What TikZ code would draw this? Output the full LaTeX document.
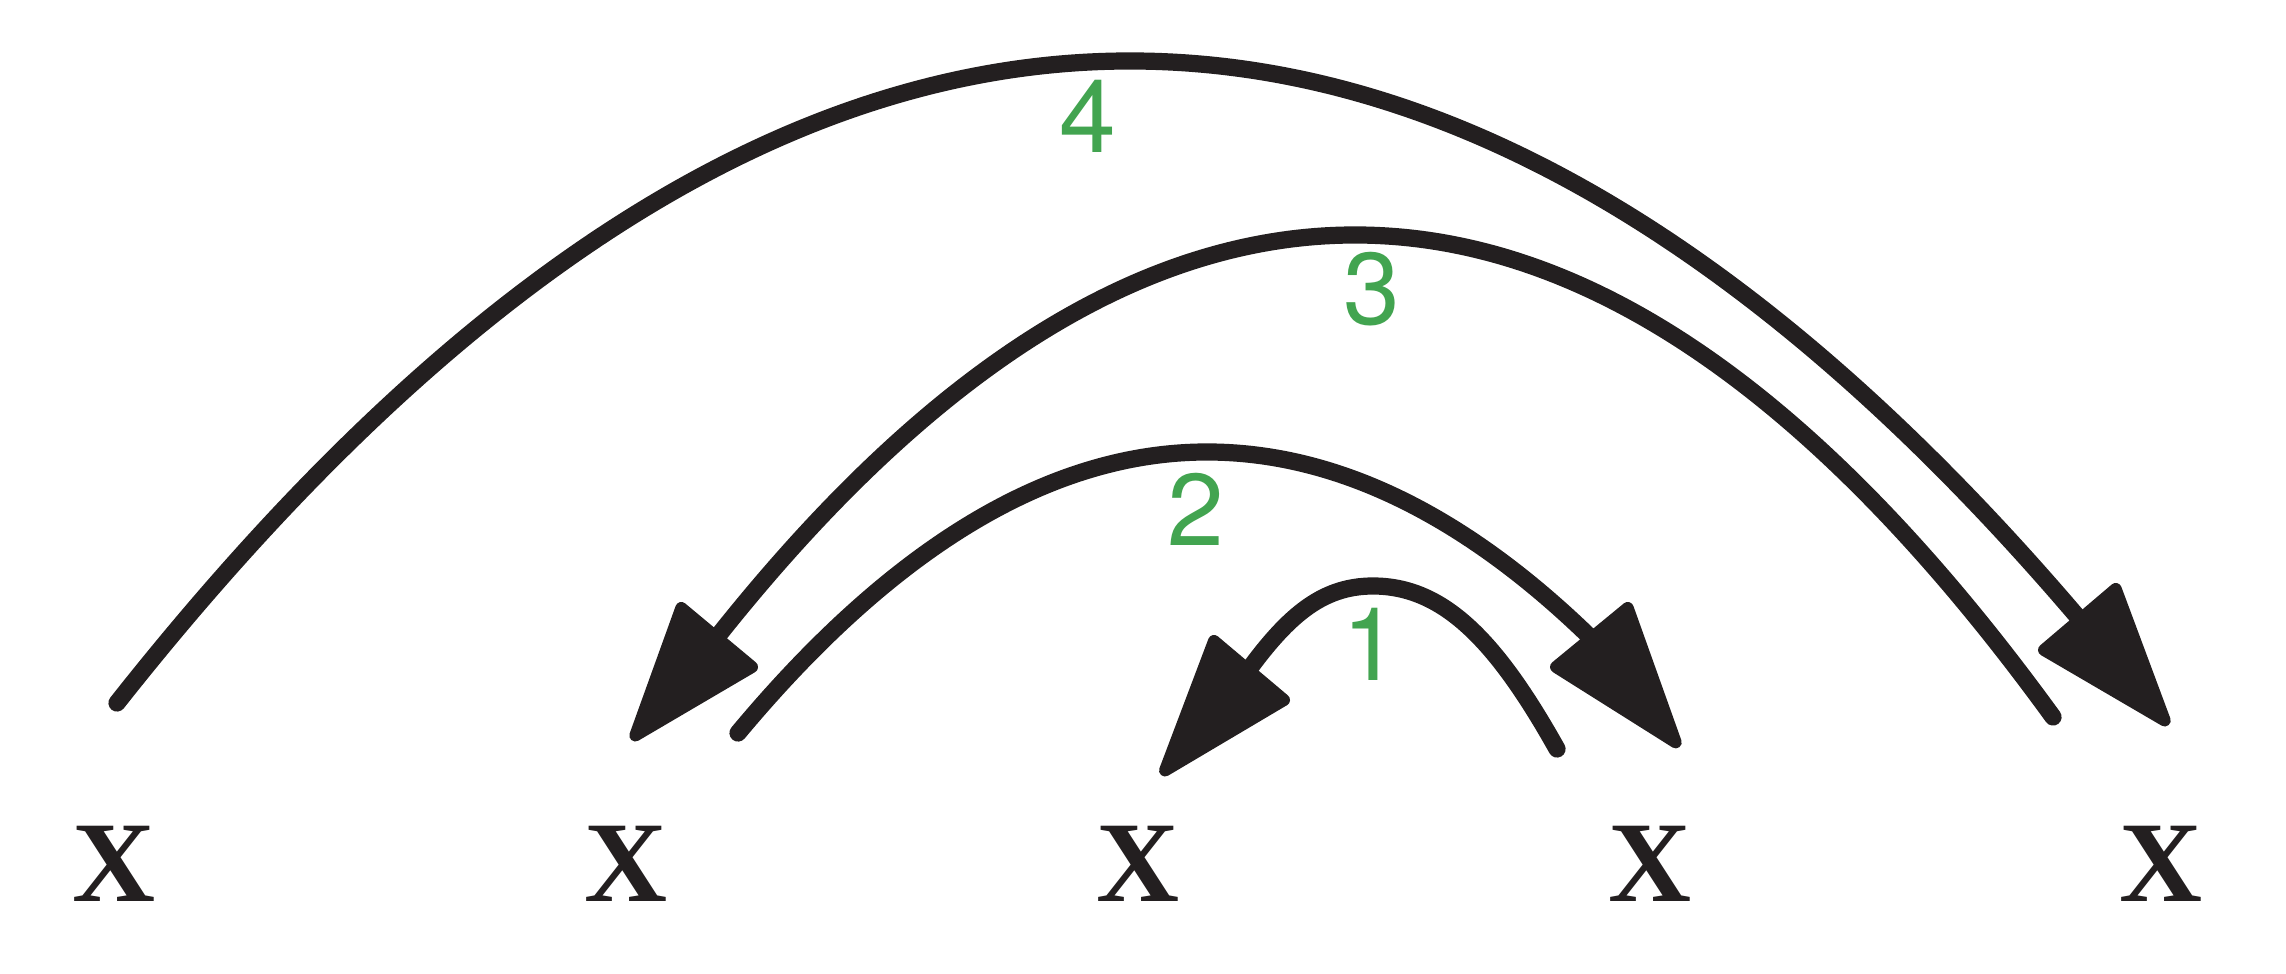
\documentclass[tikz,border=0pt]{standalone}
\usepackage{fontspec}
\setmainfont{Liberation Serif}
\newfontfamily\labelfont{TeX Gyre Heros}
\definecolor{ink}{HTML}{231F20}
\definecolor{labelgreen}{RGB}{66,164,80}
\tikzset{
  letterx/.style={anchor=base, inner sep=0pt, text=ink},
  numlabel/.style={anchor=base, inner sep=0pt, text=labelgreen},
  arcline/.style={draw=ink, line width=0.172cm, line cap=round},
  headfill/.style={draw=ink, fill=ink, line width=0.12cm, line join=round}
}
\newcommand{\xglyph}{{\fontsize{32.7pt}{34pt}\selectfont\bfseries X}}
\newcommand{\numglyph}[1]{{\labelfont\fontsize{29pt}{31pt}\selectfont #1}}
\begin{document}
\begin{tikzpicture}[x=0.01cm, y=-0.01cm]
\useasboundingbox (0,0) rectangle (2286,974);
% letters
\node[letterx] (x1) at (114.5,901) {\xglyph};
\node[letterx] (x2) at (626.2,901) {\xglyph};
\node[letterx] (x3) at (1137.9,901) {\xglyph};
\node[letterx] (x4) at (1649.6,901) {\xglyph};
\node[letterx] (x5) at (2161.3,901) {\xglyph};
% labels
\node[numlabel] (l4) at (1088,153) {\numglyph{4}};
\node[numlabel] (l3) at (1372,325) {\numglyph{3}};
\node[numlabel] (l2) at (1196,546) {\numglyph{2}};
\node[numlabel] (l1) at (1371,681) {\numglyph{1}};
% arc 1
\coordinate (t1) at (1557,749);
\coordinate (p1) at (1373,586);
\coordinate (e1) at (1242,679);
\coordinate (h1tip) at (1165,770.5);
\coordinate (h1a) at (1214,641);
\coordinate (h1b) at (1284,700);
% arc 2
\coordinate (t2) at (738,733);
\coordinate (p2) at (1207,452);
\coordinate (e2) at (1595,642);
\coordinate (h2tip) at (1675.7,742.4);
\coordinate (h2a) at (1627.7,608);
\coordinate (h2b) at (1556,667);
% arc 3
\coordinate (t3) at (2053,717);
\coordinate (p3) at (1355,235);
\coordinate (e3) at (710,646);
\coordinate (h3tip) at (635.3,735.5);
\coordinate (h3a) at (681.3,608);
\coordinate (h3b) at (752,667);
% arc 4
\coordinate (t4) at (117,703);
\coordinate (p4) at (1130,61);
\coordinate (e4) at (2087,628);
\coordinate (h4tip) at (2164.7,720.5);
\coordinate (h4a) at (2115.7,589);
\coordinate (h4b) at (2044,650);
% arcs
\draw[arcline] (t1) .. controls +(-61,-109) and +(70,0) .. (p1)
               .. controls +(-52,0) and +(44,-62) .. (e1);
\draw[arcline] (t2) .. controls +(156,-187) and +(-156,0) .. (p2)
               .. controls +(129,0) and +(-129,-127) .. (e2);
\draw[arcline] (t3) .. controls +(-233,-321) and +(233,0) .. (p3)
               .. controls +(-215,0) and +(215,-274) .. (e3);
\draw[arcline] (t4) .. controls +(338,-428) and +(-338,0) .. (p4)
               .. controls +(319,0) and +(-319,-378) .. (e4);
% heads
\filldraw[headfill] (h1tip) -- (h1a) -- (h1b) -- cycle;
\filldraw[headfill] (h2tip) -- (h2a) -- (h2b) -- cycle;
\filldraw[headfill] (h3tip) -- (h3a) -- (h3b) -- cycle;
\filldraw[headfill] (h4tip) -- (h4a) -- (h4b) -- cycle;
\end{tikzpicture}
\end{document}
